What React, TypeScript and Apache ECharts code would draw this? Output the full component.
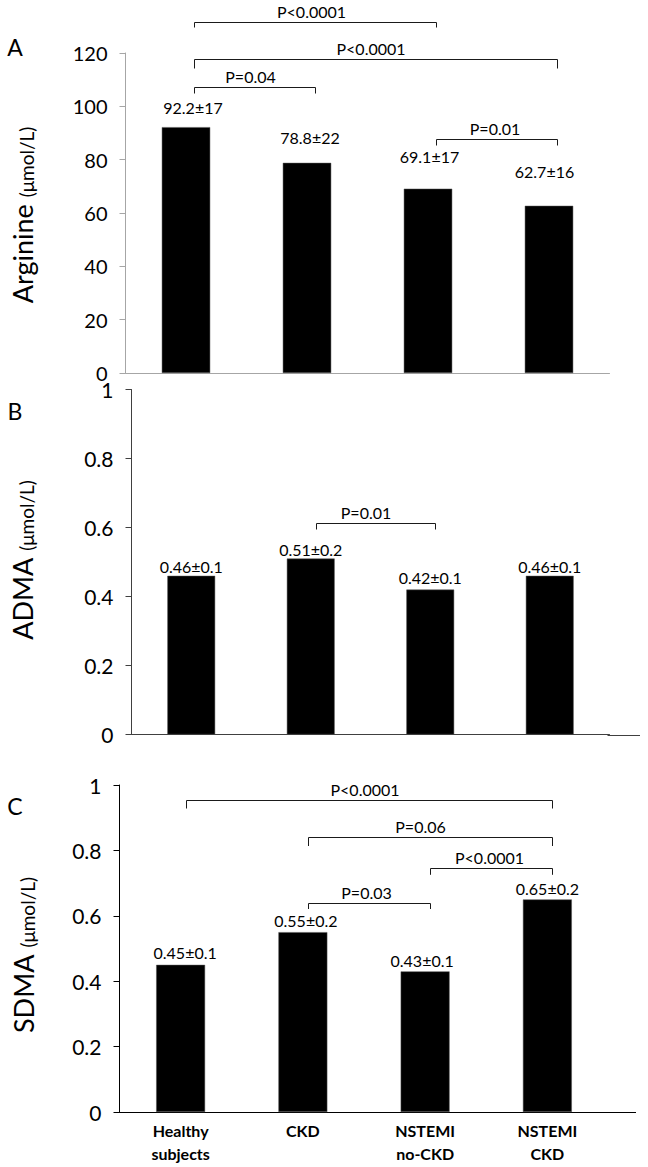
import React, { useEffect, useRef } from "react";
import * as echarts from "echarts";

// ---------- data ----------
const categories = ["Healthy\nsubjects", "CKD", "NSTEMI\nno-CKD", "NSTEMI\nCKD"];

const arginine = [92.2, 78.8, 69.1, 62.7];
const arginineSD = ["17", "22", "17", "16"];

const adma = [0.46, 0.51, 0.42, 0.46];
const admaSD = ["0.1", "0.2", "0.1", "0.1"];

const sdma = [0.45, 0.55, 0.43, 0.65];
const sdmaSD = ["0.1", "0.2", "0.1", "0.2"];

// brackets: [fromIndex, toIndex, level (axis units), text]
const bracketsA: [number, number, number, string][] = [
  [0, 2, 131.5, "P<0.0001"],
  [0, 3, 117.8, "P<0.0001"],
  [0, 1, 107.1, "P=0.04"],
  [2, 3, 87.6, "P=0.01"],
];
const bracketsB: [number, number, number, string][] = [[1, 2, 0.612, "P=0.01"]];
const bracketsC: [number, number, number, string][] = [
  [0, 3, 0.954, "P<0.0001"],
  [1, 3, 0.84, "P=0.06"],
  [2, 3, 0.747, "P<0.0001"],
  [1, 2, 0.64, "P=0.03"],
];

const yTicksA = { min: 0, max: 120, interval: 20 };
const yTicksBC = { min: 0, max: 1, interval: 0.2 };

// ---------- styling / layout ----------
const FONT = "Lato";
const grids = [
  { left: 125.5, top: 53, width: 484, height: 320 },
  { left: 131.5, top: 389.5, width: 478, height: 345 },
  { left: 119.5, top: 785, width: 489, height: 327 },
];
const axisColors = ["#a6a6a6", "#404040", "#000000"];
const labelGap = [
  [19.7, 25, 32, 34],
  [9, 9.5, 12, 9],
  [12, 11.3, 10.7, 11],
];
const labelDx = [
  [7, 3, 1.5, -4.5],
  [0, 0, 0, 0],
  [4.5, 3, -3, 0],
];
const bracketShift = [8, 5, 5];
const bracketDrop = [
  [5, 9, 6, 6],
  [6],
  [8, 8.5, 6.3, 5.5],
];
const bracketTextDx = [
  [-4, -5, -4.5, -2],
  [-10],
  [-4.5, -10, -2, -3],
];
const axisExtendTo = [null, 640, 636];

function buildOption() {
  const valueSets = [arginine, adma, sdma];
  const sdSets = [arginineSD, admaSD, sdmaSD];
  return {
    animation: false,
    backgroundColor: "#ffffff",
    grid: grids,
    xAxis: [0, 1, 2].map((i) => ({
      type: "category",
      gridIndex: i,
      data: categories,
      axisTick: { show: false },
      axisLine: { show: true, lineStyle: { color: axisColors[i], width: 1 } },
      axisLabel:
        i === 2
          ? {
              show: true,
              interval: 0,
              fontSize: 16,
              fontWeight: "bold",
              fontFamily: FONT,
              color: "#000",
              lineHeight: 23,
              margin: 7,
            }
          : { show: false },
    })),
    yAxis: [0, 1, 2].map((i) => ({
      type: "value",
      gridIndex: i,
      ...(i === 0 ? yTicksA : yTicksBC),
      splitLine: { show: false },
      axisLine: { show: true, lineStyle: { color: axisColors[i], width: 1 } },
      axisTick: { show: true, length: 6, lineStyle: { color: axisColors[i], width: 1 } },
      axisLabel: {
        fontSize: i === 0 ? 20 : 21,
        lineHeight: 16,
        fontFamily: FONT,
        color: "#000",
        margin: 18,
      },
    })),
    series: [0, 1, 2].map((i) => ({
      type: "bar",
      xAxisIndex: i,
      yAxisIndex: i,
      barWidth: "40%",
      itemStyle: { color: "#000000", borderColor: "#555", borderWidth: 0.5 },
      label: {
        show: true,
        position: "top",
        verticalAlign: "middle",
        fontSize: 16,
        fontFamily: FONT,
        color: "#000",
        formatter: (p: any) => `${valueSets[i][p.dataIndex]}±${sdSets[i][p.dataIndex]}`,
      },
      data: valueSets[i].map((v, k) => ({
        value: v,
        label: { distance: labelGap[i][k], offset: [labelDx[i][k], 0] },
      })),
    })),
  };
}

function buildGraphics(chart: any) {
  const els: any[] = [];
  const bracketSets = [bracketsA, bracketsB, bracketsC];
  bracketSets.forEach((set, g) => {
    set.forEach(([a, b, lvl, text], k) => {
      const pa = chart.convertToPixel({ gridIndex: g }, [a, lvl]);
      const pb = chart.convertToPixel({ gridIndex: g }, [b, lvl]);
      const xa = Math.round(pa[0] + bracketShift[g]) + 0.5;
      const xb = Math.round(pb[0] + bracketShift[g]) + 0.5;
      const y = Math.round(pa[1]) + 0.5;
      const d = bracketDrop[g][k];
      els.push({
        type: "polyline",
        silent: true,
        shape: { points: [[xa, y + d], [xa, y], [xb, y], [xb, y + d]] },
        style: { stroke: "#1a1a1a", lineWidth: 1, fill: null },
      });
      els.push({
        type: "text",
        silent: true,
        x: (xa + xb) / 2 + bracketTextDx[g][k],
        y: y - 11.5,
        style: {
          text,
          fontSize: 16,
          fontFamily: FONT,
          fill: "#000",
          align: "center",
          verticalAlign: "middle",
        },
      });
    });
  });

  // x-axis line extensions (continue the category axis line to the right)
  [1, 2].forEach((g) => {
    const gr = grids[g];
    const y0 = chart.convertToPixel({ gridIndex: g }, [0, 0])[1];
    const y = Math.round(y0) + 0.5;
    els.push({
      type: "line",
      silent: true,
      shape: { x1: gr.left + gr.width - 2, y1: y, x2: axisExtendTo[g], y2: y },
      style: { stroke: axisColors[g], lineWidth: 1 },
    });
  });

  // panel letters
  const letters = [
    ["A", 15, 47],
    ["B", 15, 411],
    ["C", 15, 806],
  ];
  letters.forEach(([t, x, y]) =>
    els.push({
      type: "text",
      silent: true,
      x,
      y,
      style: { text: t, fontSize: 23, fontFamily: FONT, fill: "#000", align: "center", verticalAlign: "middle" },
    })
  );

  // y-axis titles
  const titles = [
    ["Arginine", 20, 215],
    ["ADMA", 20, 560],
    ["SDMA", 21, 955],
  ];
  titles.forEach(([t, x, y]) =>
    els.push({
      type: "text",
      silent: true,
      x,
      y,
      rotation: Math.PI / 2,
      style: {
        text: `{a|${t}}{s| }{b|(μmol/L)}`,
        fontFamily: FONT,
        fill: "#000",
        align: "center",
        verticalAlign: "middle",
        rich: {
          a: { fontSize: 27, fontFamily: FONT, fill: "#000", lineHeight: 32, verticalAlign: "bottom" },
          s: { width: 7, fontSize: 19, lineHeight: 32, verticalAlign: "bottom" },
          b: { fontSize: 19, fontFamily: FONT, fill: "#000", lineHeight: 32, verticalAlign: "bottom" },
        },
      },
    })
  );
  return els;
}

export default function App() {
  const ref = useRef<HTMLDivElement>(null);
  useEffect(() => {
    document.body.style.margin = "0";
    const chart = echarts.init(ref.current!, null, { renderer: "svg" });
    chart.setOption(buildOption());
    chart.setOption({ graphic: buildGraphics(chart) });
    return () => chart.dispose();
  }, []);
  return <div ref={ref} style={{ width: 648, height: 1167 }} />;
}
